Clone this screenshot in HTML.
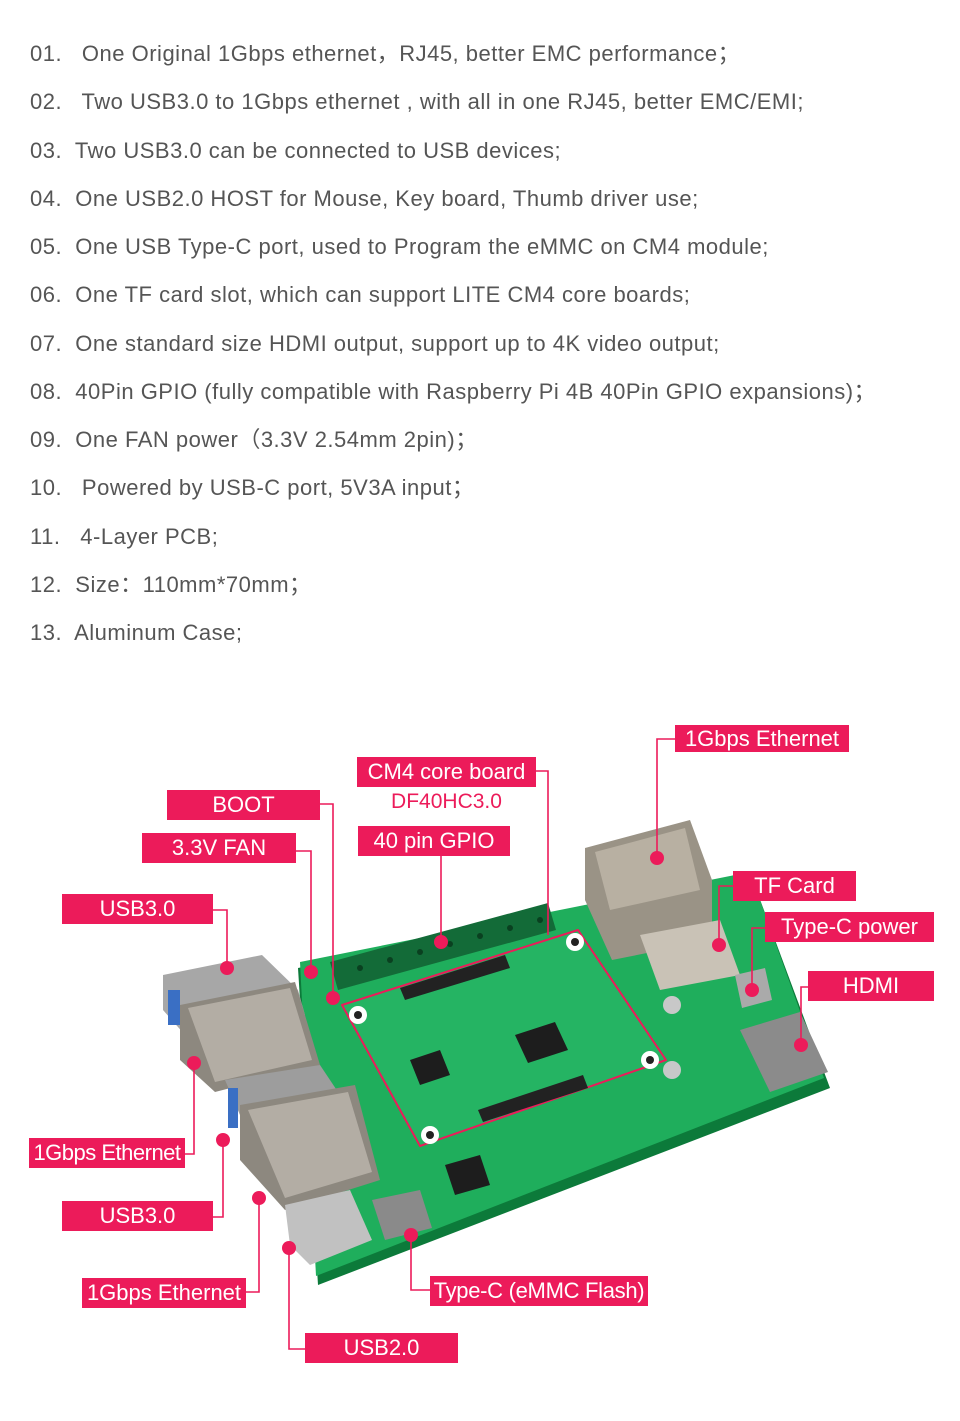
<!DOCTYPE html>
<html><head><meta charset="utf-8"><style>
body{margin:0;background:#fff;width:960px;height:1421px;overflow:hidden;position:relative;font-family:"Liberation Sans","Noto Sans CJK SC",sans-serif}
.l{position:absolute;left:30px;font-size:22px;letter-spacing:0.5px;color:#555;white-space:pre;line-height:26px}
.b{position:absolute;background:#ec1b5a;color:#fff;font-size:22px;text-align:center;line-height:30px;white-space:nowrap}
</style></head><body>
<div class="l" style="top:41px">01.   One Original 1Gbps ethernet，RJ45, better EMC performance；</div>
<div class="l" style="top:89px">02.   Two USB3.0 to 1Gbps ethernet , with all in one RJ45, better EMC/EMI;</div>
<div class="l" style="top:138px">03.  Two USB3.0 can be connected to USB devices;</div>
<div class="l" style="top:186px">04.  One USB2.0 HOST for Mouse, Key board, Thumb driver use;</div>
<div class="l" style="top:234px">05.  One USB Type-C port, used to Program the eMMC on CM4 module;</div>
<div class="l" style="top:282px">06.  One TF card slot, which can support LITE CM4 core boards;</div>
<div class="l" style="top:331px">07.  One standard size HDMI output, support up to 4K video output;</div>
<div class="l" style="top:379px">08.  40Pin GPIO (fully compatible with Raspberry Pi 4B 40Pin GPIO expansions)；</div>
<div class="l" style="top:427px">09.  One FAN power（3.3V 2.54mm 2pin)；</div>
<div class="l" style="top:475px">10.   Powered by USB-C port, 5V3A input；</div>
<div class="l" style="top:524px">11.   4-Layer PCB;</div>
<div class="l" style="top:572px">12.  Size：110mm*70mm；</div>
<div class="l" style="top:620px">13.  Aluminum Case;</div>

<svg width="960" height="1421" style="position:absolute;left:0;top:0">
<polygon points="298,968 752,878 830,1088 318,1285" fill="#0c7a3a"/>
<polygon points="300,962 750,872 824,1078 316,1276" fill="#1fae5c"/>
<polygon points="330,962 548,903 556,930 338,990" fill="#136b38"/>
<g fill="#0a4020">
<circle cx="360" cy="968" r="3"/><circle cx="390" cy="960" r="3"/><circle cx="420" cy="952" r="3"/><circle cx="450" cy="944" r="3"/><circle cx="480" cy="936" r="3"/><circle cx="510" cy="928" r="3"/><circle cx="540" cy="920" r="3"/>
</g>
<polygon points="342,1005 578,930 666,1060 420,1146" fill="#25b463" stroke="#ec1b5a" stroke-width="2" stroke-linejoin="round"/>
<polygon points="400,988 505,955 510,968 405,1000" fill="#222"/>
<polygon points="478,1110 583,1075 588,1088 483,1122" fill="#222"/>
<polygon points="515,1035 555,1022 568,1050 528,1063" fill="#1d1d1d"/>
<polygon points="410,1060 440,1050 450,1075 420,1085" fill="#1d1d1d"/>
<polygon points="445,1165 480,1155 490,1185 455,1195" fill="#1d1d1d"/>
<circle cx="358" cy="1015" r="9" fill="#fff"/><circle cx="358" cy="1015" r="4" fill="#222"/>
<circle cx="575" cy="942" r="9" fill="#fff"/><circle cx="575" cy="942" r="4" fill="#222"/>
<circle cx="650" cy="1060" r="9" fill="#fff"/><circle cx="650" cy="1060" r="4" fill="#222"/>
<circle cx="430" cy="1135" r="9" fill="#fff"/><circle cx="430" cy="1135" r="4" fill="#222"/>
<polygon points="585,848 690,820 712,880 712,940 612,960 585,900" fill="#9a9386"/>
<polygon points="595,852 685,828 700,890 610,910" fill="#b8b0a2"/>
<polygon points="640,935 720,920 740,975 660,990" fill="#c9c2b6"/>
<circle cx="672" cy="1005" r="9" fill="#c8c8c8"/><circle cx="672" cy="1070" r="9" fill="#c8c8c8"/>
<polygon points="740,1030 800,1012 828,1072 770,1092" fill="#8b8b8b"/>
<polygon points="735,975 765,968 772,1000 742,1008" fill="#aaa"/>
<polygon points="163,975 262,955 298,990 305,1015 185,1035 163,1010" fill="#a7a7a7"/>
<rect x="168" y="990" width="12" height="35" fill="#3a6fc4"/>
<polygon points="180,1005 295,982 320,1065 215,1092 180,1060" fill="#8d887f"/>
<polygon points="188,1008 290,988 312,1060 215,1082" fill="#b3ada4"/>
<polygon points="225,1080 320,1065 340,1095 240,1115" fill="#9d9d9d"/>
<rect x="228" y="1088" width="10" height="40" fill="#3a6fc4"/>
<polygon points="240,1105 355,1085 380,1180 285,1210 240,1160" fill="#8d887f"/>
<polygon points="248,1110 348,1092 372,1172 285,1198" fill="#b3ada4"/>
<polygon points="285,1205 350,1190 372,1240 310,1265 290,1245" fill="#c1c1c1"/>
<polygon points="372,1200 420,1190 432,1228 385,1240" fill="#8a8a8a"/>
<g fill="none" stroke="#ec1b5a" stroke-width="1.6">
<polyline points="675,739 657,739 657,858"/>
<polyline points="536,771 548,771 548,935"/>
<polyline points="441,856 441,942"/>
<polyline points="320,804 333,804 333,998"/>
<polyline points="296,851 311,851 311,972"/>
<polyline points="213,910 227,910 227,968"/>
<polyline points="733,886 719,886 719,945"/>
<polyline points="765,928 752,928 752,990"/>
<polyline points="808,987 801,987 801,1045"/>
<polyline points="185,1154 194,1154 194,1063"/>
<polyline points="213,1217 223,1217 223,1140"/>
<polyline points="246,1292 259,1292 259,1198"/>
<polyline points="430,1290 411,1290 411,1235"/>
<polyline points="305,1349 289,1349 289,1248"/>
</g>
<g fill="#ec1b5a">
<circle cx="657" cy="858" r="7"/><circle cx="441" cy="942" r="7"/><circle cx="333" cy="998" r="7"/><circle cx="311" cy="972" r="7"/><circle cx="227" cy="968" r="7"/><circle cx="719" cy="945" r="7"/><circle cx="752" cy="990" r="7"/><circle cx="801" cy="1045" r="7"/><circle cx="194" cy="1063" r="7"/><circle cx="223" cy="1140" r="7"/><circle cx="259" cy="1198" r="7"/><circle cx="411" cy="1235" r="7"/><circle cx="289" cy="1248" r="7"/>
</g>
</svg>

<div class="b" style="left:675px;top:725px;width:174px;height:27px;line-height:27px">1Gbps Ethernet</div>
<div class="b" style="left:357px;top:757px;width:179px">CM4 core board</div>
<div style="position:absolute;left:357px;top:790px;width:179px;text-align:center;color:#ec1b5a;font-size:21px">DF40HC3.0</div>
<div class="b" style="left:358px;top:826px;width:152px">40 pin GPIO</div>
<div class="b" style="left:167px;top:790px;width:153px">BOOT</div>
<div class="b" style="left:142px;top:833px;width:154px">3.3V FAN</div>
<div class="b" style="left:62px;top:894px;width:151px">USB3.0</div>
<div class="b" style="left:733px;top:871px;width:123px">TF Card</div>
<div class="b" style="left:765px;top:912px;width:169px">Type-C power</div>
<div class="b" style="left:808px;top:971px;width:126px">HDMI</div>
<div class="b" style="left:29px;top:1138px;width:156px;letter-spacing:-0.5px">1Gbps Ethernet</div>
<div class="b" style="left:62px;top:1201px;width:151px">USB3.0</div>
<div class="b" style="left:82px;top:1278px;width:164px">1Gbps Ethernet</div>
<div class="b" style="left:430px;top:1276px;width:218px;letter-spacing:-0.3px">Type-C (eMMC Flash)</div>
<div class="b" style="left:305px;top:1333px;width:153px">USB2.0</div>
</body></html>
